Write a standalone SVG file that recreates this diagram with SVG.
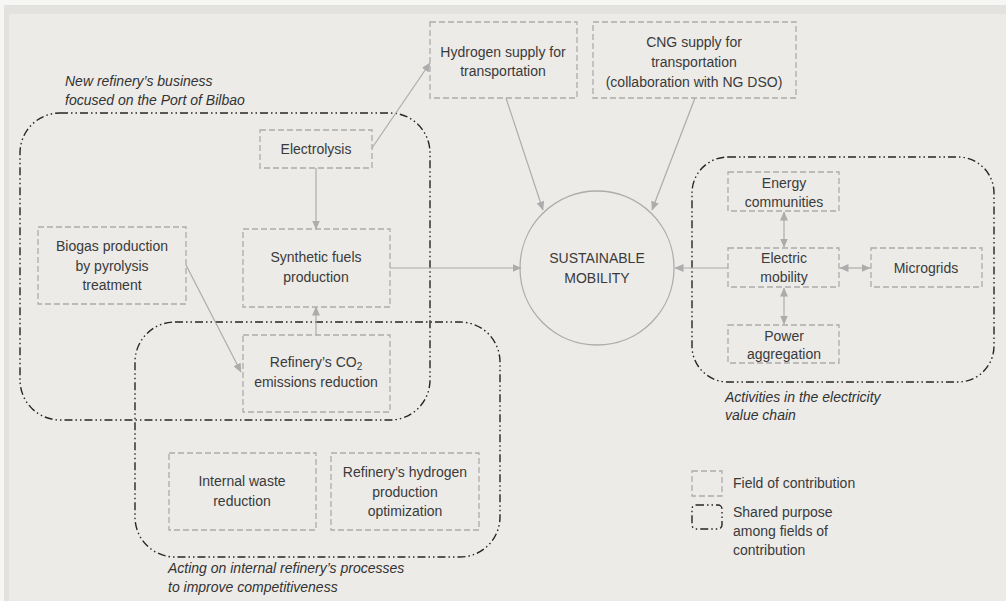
<svg xmlns="http://www.w3.org/2000/svg" width="1006" height="601" viewBox="0 0 1006 601">
<defs>
<style>
.bg{fill:#ecebe8}
.node{fill:none;stroke:#acacac;stroke-width:1.3;stroke-dasharray:6 3}
.group{fill:none;stroke:#262626;stroke-width:1.4;stroke-dasharray:8 3 1.5 3 1.5 3}
.t{font-family:"Liberation Sans",Arial,sans-serif;font-size:14px;fill:#3a3a3a;text-anchor:middle}
.it{font-family:"Liberation Sans",Arial,sans-serif;font-size:14px;font-style:italic;fill:#333}
.lg{font-family:"Liberation Sans",Arial,sans-serif;font-size:14px;fill:#3a3a3a}
.c{fill:none;stroke:#acacac;stroke-width:1.2}
</style>
<marker id="ah" markerWidth="9" markerHeight="8" refX="8.5" refY="4" orient="auto" markerUnits="userSpaceOnUse">
<path d="M0,0 L9,4 L0,8 Z" fill="#acacac"/>
</marker>
<marker id="as" markerWidth="9" markerHeight="8" refX="0.5" refY="4" orient="auto" markerUnits="userSpaceOnUse">
<path d="M9,0 L0,4 L9,8 Z" fill="#acacac"/>
</marker>
</defs>
<rect x="0" y="0" width="1006" height="601" fill="#f6f6f4"/>
<rect x="4" y="5" width="1002" height="596" fill="#e3e2df"/>
<rect class="bg" x="9" y="14" width="997" height="587"/>

<g id="groups">
<rect id="grp-business" class="group" x="20" y="113" width="410" height="307" rx="40"/>
<rect id="grp-internal" class="group" x="135" y="322" width="365" height="235" rx="40"/>
<rect id="grp-electricity" class="group" x="692" y="157" width="302" height="225" rx="36"/>
<text class="it" x="65" y="86">New refinery’s business</text>
<text class="it" x="65" y="105">focused on the Port of Bilbao</text>
<text class="it" x="168" y="573">Acting on internal refinery’s processes</text>
<text class="it" x="168" y="592">to improve competitiveness</text>
<text class="it" x="725" y="402">Activities in the electricity</text>
<text class="it" x="725" y="420">value chain</text>
</g>

<g id="connectors">
<line class="c" x1="372" y1="148" x2="430" y2="63" marker-end="url(#ah)"/>
<line class="c" x1="316" y1="168" x2="316" y2="229" marker-end="url(#ah)"/>
<line class="c" x1="316" y1="335" x2="316" y2="307" marker-end="url(#ah)"/>
<line class="c" x1="186" y1="265" x2="241" y2="372" marker-end="url(#ah)"/>
<line class="c" x1="390" y1="268" x2="521" y2="268" marker-end="url(#ah)"/>
<line class="c" x1="506" y1="98" x2="543" y2="210" marker-end="url(#ah)"/>
<line class="c" x1="695" y1="98" x2="652" y2="210" marker-end="url(#ah)"/>
<line class="c" x1="728" y1="268" x2="675" y2="268" marker-end="url(#ah)"/>
<line class="c" x1="784" y1="212" x2="784" y2="247" marker-start="url(#as)" marker-end="url(#ah)"/>
<line class="c" x1="784" y1="288" x2="784" y2="324" marker-start="url(#as)" marker-end="url(#ah)"/>
<line class="c" x1="840" y1="268" x2="870" y2="268" marker-start="url(#as)" marker-end="url(#ah)"/>
</g>

<g id="node-electrolysis">
<rect class="node" x="260" y="130" width="112" height="38"/>
<text class="t" x="316" y="154">Electrolysis</text>
</g>
<g id="node-hydrogen-supply">
<rect class="node" x="430" y="22" width="147" height="76"/>
<text class="t" x="503" y="57">Hydrogen supply for</text>
<text class="t" x="503" y="76">transportation</text>
</g>
<g id="node-cng-supply">
<rect class="node" x="593" y="22" width="203" height="76"/>
<text class="t" x="694" y="47">CNG supply for</text>
<text class="t" x="694" y="67">transportation</text>
<text class="t" x="694" y="87">(collaboration with NG DSO)</text>
</g>
<g id="node-biogas">
<rect class="node" x="38" y="227" width="148" height="77"/>
<text class="t" x="112" y="251">Biogas production</text>
<text class="t" x="112" y="271">by pyrolysis</text>
<text class="t" x="112" y="290">treatment</text>
</g>
<g id="node-synthetic">
<rect class="node" x="243" y="229" width="147" height="78"/>
<text class="t" x="316" y="262">Synthetic fuels</text>
<text class="t" x="316" y="282">production</text>
</g>
<g id="node-co2">
<rect class="node" x="243" y="335" width="147" height="77"/>
<text class="t" x="316" y="367">Refinery’s CO<tspan font-size="10" dy="3">2</tspan></text>
<text class="t" x="316" y="387">emissions reduction</text>
</g>
<g id="node-waste">
<rect class="node" x="169" y="453" width="147" height="77"/>
<text class="t" x="242" y="486">Internal waste</text>
<text class="t" x="242" y="506">reduction</text>
</g>
<g id="node-h2-optimization">
<rect class="node" x="331" y="453" width="148" height="77"/>
<text class="t" x="405" y="477">Refinery’s hydrogen</text>
<text class="t" x="405" y="497">production</text>
<text class="t" x="405" y="516">optimization</text>
</g>
<g id="node-sustainable-mobility">
<circle cx="597" cy="268" r="77" fill="none" stroke="#acacac" stroke-width="1.3"/>
<text class="t" x="597" y="263">SUSTAINABLE</text>
<text class="t" x="597" y="283">MOBILITY</text>
</g>
<g id="node-energy-communities">
<rect class="node" x="728" y="172" width="111" height="39"/>
<text class="t" x="784" y="188">Energy</text>
<text class="t" x="784" y="207">communities</text>
</g>
<g id="node-electric-mobility">
<rect class="node" x="728" y="248" width="111" height="39"/>
<text class="t" x="784" y="263">Electric</text>
<text class="t" x="784" y="282">mobility</text>
</g>
<g id="node-microgrids">
<rect class="node" x="871" y="248" width="111" height="39"/>
<text class="t" x="926" y="273">Microgrids</text>
</g>
<g id="node-power-aggregation">
<rect class="node" x="728" y="325" width="111" height="38"/>
<text class="t" x="784" y="341">Power</text>
<text class="t" x="784" y="359">aggregation</text>
</g>

<g id="legend">
<rect class="node" x="692" y="471" width="30" height="25"/>
<text class="lg" x="733" y="488">Field of contribution</text>
<rect class="group" x="692" y="505" width="30" height="24" rx="4"/>
<text class="lg" x="733" y="517">Shared purpose</text>
<text class="lg" x="733" y="536">among fields of</text>
<text class="lg" x="733" y="555">contribution</text>
</g>
</svg>
